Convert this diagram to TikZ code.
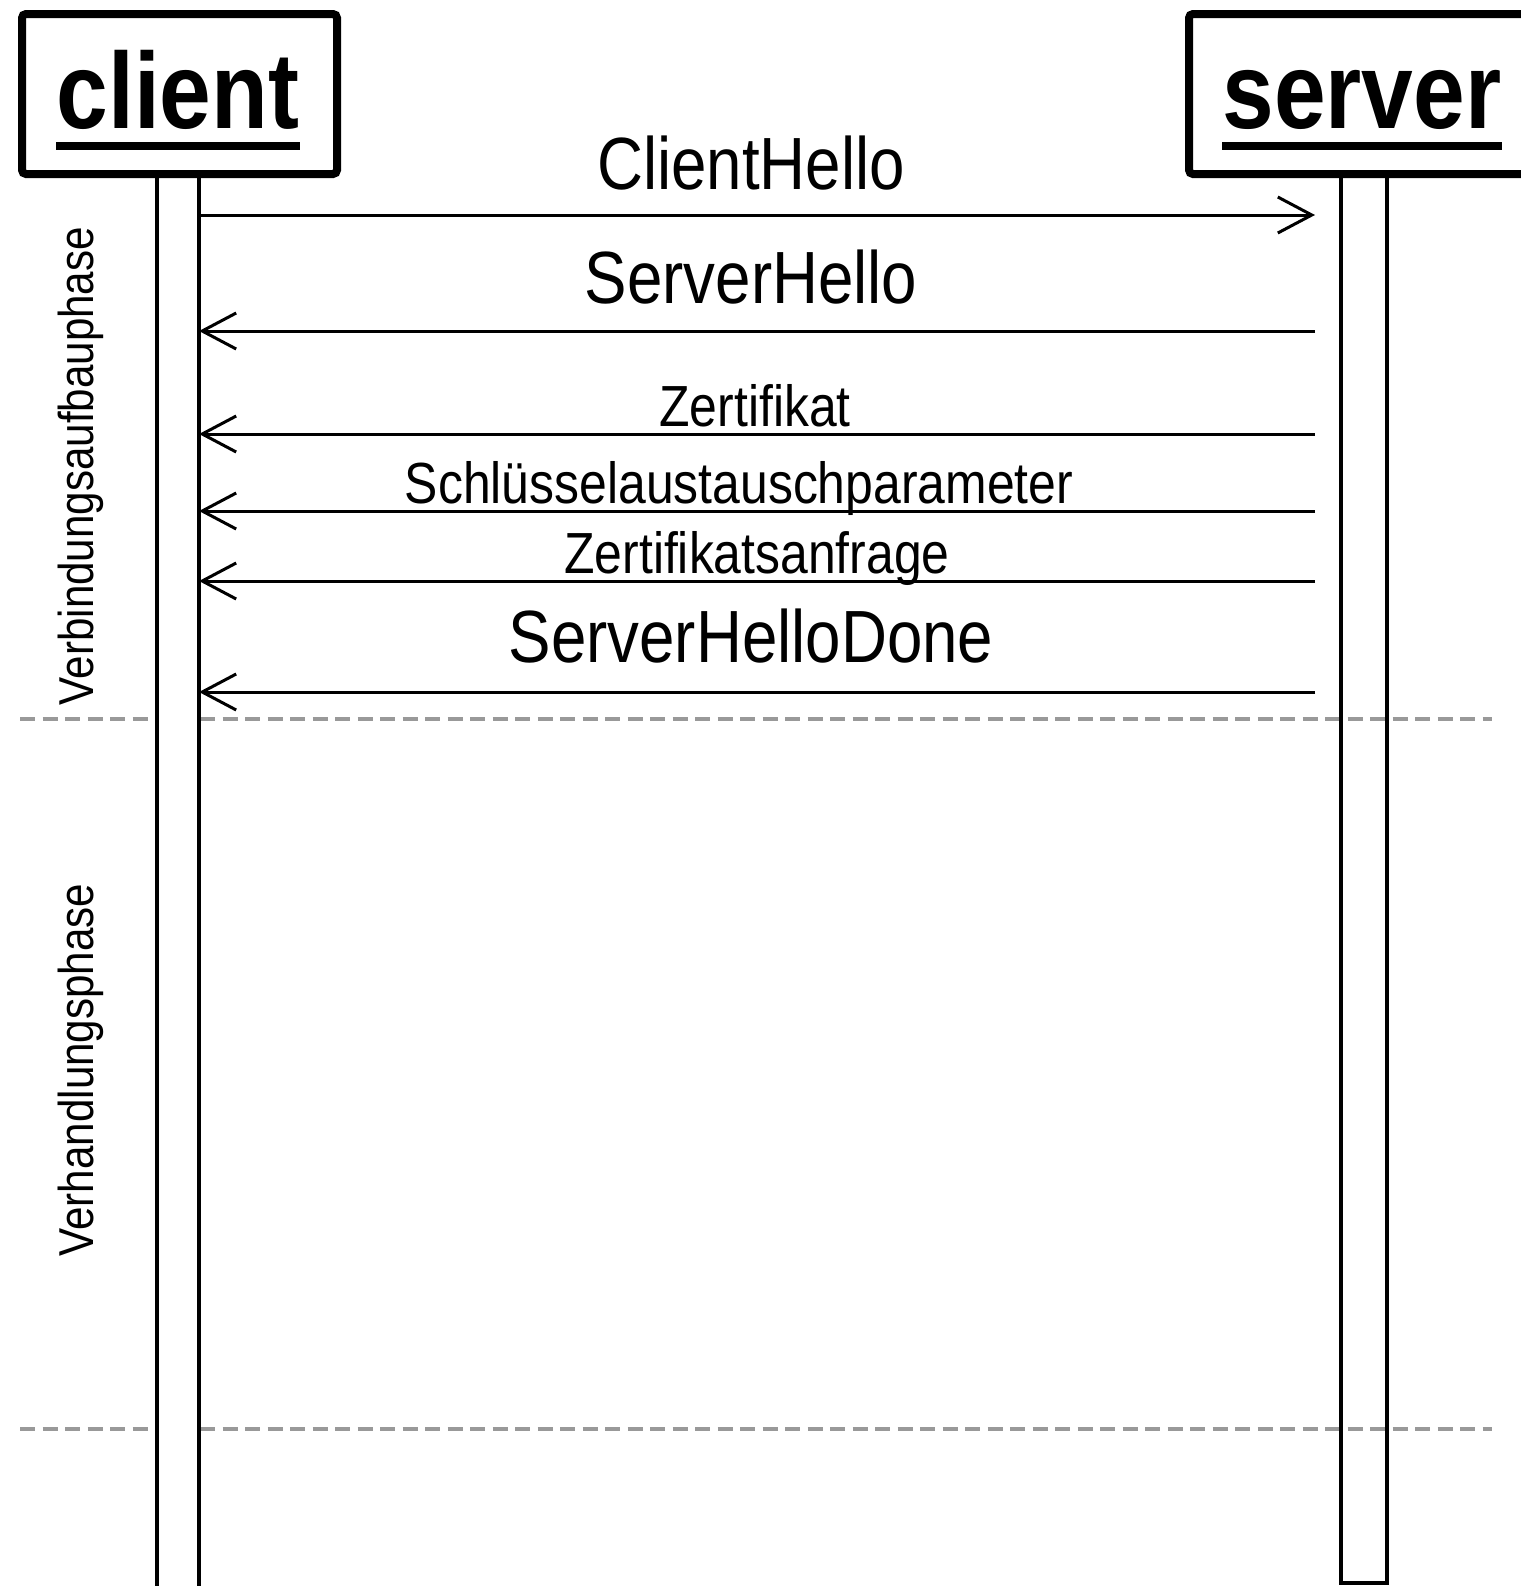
\documentclass[tikz,border=0pt]{standalone}
\usepackage{fontspec}
\setmainfont{Liberation Sans}[FakeStretch=0.86]
\usetikzlibrary{arrows.meta}
\usetikzlibrary{math}

\begin{document}
\begin{tikzpicture}[x=0.5pt, y=-0.5pt,
    lifeline/.style={draw=black, line width=1.6pt},
    actor/.style={draw=black, line width=4pt, rounded corners=2pt, fill=white},
    actorname/.style={inner sep=0pt, anchor=base, font=\fontsize{54}{60}\selectfont\bfseries},
    nameline/.style={line width=4pt},
    msg/.style={line width=1.5pt, -{Straight Barb[length=17pt, width=18pt, line width=1.5pt]}},
    biglabel/.style={midway, anchor=base, inner sep=0pt, font=\fontsize{37}{44}\selectfont},
    smalllabel/.style={midway, anchor=base, inner sep=0pt, font=\fontsize{29}{34}\selectfont},
    phase/.style={rotate=90, anchor=base, inner sep=0pt, font=\fontsize{24.5}{29}\selectfont},
    separator/.style={draw=gray!80, line width=2pt, dash pattern=on 7.5pt off 3.75pt},
]

\path[use as bounding box, clip] (0,0) rectangle (1521,1586);

% Position settings
\tikzmath{
    \ClientLeft = 157;
    \ClientRight = 199;
    \ServerLeft = 1341;
    \ServerRight = 1387;
    \MsgStart = 199;
    \MsgEnd = 1315;
    \BoxBottom = 174;
}

\coordinate (M1C) at (\MsgStart, 215);
\coordinate (M1S) at (\MsgEnd, 215);
\coordinate (M2C) at (\MsgStart, 331);
\coordinate (M2S) at (\MsgEnd, 331);
\coordinate (M3C) at (\MsgStart, 434);
\coordinate (M3S) at (\MsgEnd, 434);
\coordinate (M4C) at (\MsgStart, 511);
\coordinate (M4S) at (\MsgEnd, 511);
\coordinate (M5C) at (\MsgStart, 581);
\coordinate (M5S) at (\MsgEnd, 581);
\coordinate (M6C) at (\MsgStart, 692);
\coordinate (M6S) at (\MsgEnd, 692);

% Phase separators
\coordinate (Sep1L) at (20, 719);
\coordinate (Sep1R) at (1492, 719);
\coordinate (Sep2L) at (20, 1429);
\coordinate (Sep2R) at (1492, 1429);
\draw [separator] (Sep1L) -- (Sep1R);
\draw [separator] (Sep2L) -- (Sep2R);

% Lifelines
\draw [lifeline] (\ServerLeft, \BoxBottom) rectangle (\ServerRight, 1583);
\draw [lifeline, fill=white] (\ClientLeft, \BoxBottom) rectangle (\ClientRight, 1610);

% Actors
\node [actor, minimum width=157.5pt, minimum height=80pt] (client) at (179.5, 94) {};
\node [actor, minimum width=175.5pt, minimum height=80pt] (server) at (1364.5, 94) {};
\node [actorname] (clientname) at (178, 128) {client};
\node [actorname] (servername) at (1362, 128) {server};
\draw [nameline] ([yshift=-9pt]clientname.base west) -- ([yshift=-9pt]clientname.base east);
\draw [nameline] ([yshift=-9pt]servername.base west) -- ([yshift=-9pt]servername.base east);

% Phase names
\node [phase] (setup) at (93, 466) {Verbindungsaufbauphase};
\node [phase] (negotiation) at (93, 1070) {Verhandlungsphase};

% Messages
\draw [msg] (M1C) -- node [biglabel, xshift=-3pt, yshift=13pt] {ClientHello} (M1S);
\draw [msg] (M2S) -- node [biglabel, xshift=-3pt, yshift=14pt] {ServerHello} (M2C);
\draw [msg] (M3S) -- node [smalllabel, xshift=-1pt, yshift=4pt] {Zertifikat} (M3C);
\draw [msg] (M4S) -- node [smalllabel, xshift=-9pt, yshift=4pt] {Schlüsselaustauschparameter} (M4C);
\draw [msg] (M5S) -- node [smalllabel, yshift=4pt] {Zertifikatsanfrage} (M5C);
\draw [msg] (M6S) -- node [biglabel, xshift=-3pt, yshift=15pt] {ServerHelloDone} (M6C);

\end{tikzpicture}
\end{document}
